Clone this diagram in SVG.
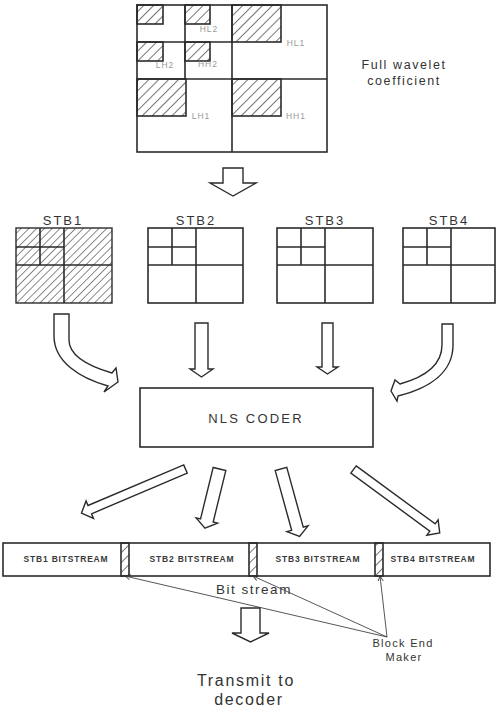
<svg xmlns="http://www.w3.org/2000/svg" width="497" height="711" viewBox="0 0 497 711">
  <defs>
    <pattern id="hatch" width="7" height="7" patternUnits="userSpaceOnUse" patternTransform="rotate(45)">
      <line x1="0" y1="0" x2="0" y2="7" stroke="#2b2b2b" stroke-width="1.3"/>
    </pattern>
    <pattern id="hatch-fine" width="5.5" height="5.5" patternUnits="userSpaceOnUse" patternTransform="rotate(45)">
      <line x1="0" y1="0" x2="0" y2="5.5" stroke="#2b2b2b" stroke-width="1.1"/>
    </pattern>
    <marker id="tip" viewBox="0 0 8 8" refX="7" refY="4" markerWidth="6" markerHeight="6" orient="auto" markerUnits="userSpaceOnUse">
      <path d="M0,0.5 L7,4 L0,7.5" fill="none" stroke="#333" stroke-width="1.2"/>
    </marker>
  </defs>
  <style>
    .ln { fill: none; stroke: #2b2b2b; stroke-width: 1.6; }
    .box { fill: #fff; stroke: #2b2b2b; stroke-width: 1.6; }
    .hz { fill: url(#hatch); stroke: #2b2b2b; stroke-width: 1.6; }
    .hzf { fill: url(#hatch-fine); stroke: #2b2b2b; stroke-width: 1.4; }
    .arrow { fill: #fff; stroke: #2b2b2b; stroke-width: 1.4; stroke-linejoin: miter; }
    .thin { fill: none; stroke: #444; stroke-width: 0.9; }
    text { font-family: "Liberation Sans", Arial, sans-serif; fill: #333; }
    .sub { font-size: 8.5px; fill: #999; letter-spacing: 1px; text-anchor: middle; }
    .stb { font-size: 13px; letter-spacing: 2px; text-anchor: middle; }
    .bs { font-size: 8.5px; font-weight: bold; letter-spacing: 0.8px; text-anchor: middle; fill: #3a3a3a; }
    .cap { font-size: 12.5px; letter-spacing: 1.6px; text-anchor: middle; }
  </style>
  <rect width="497" height="711" fill="#fff"/>

  <!-- full wavelet decomposition -->
  <g id="wavelet">
    <rect class="box" x="137" y="5" width="190" height="147"/>
    <rect class="hz" x="137" y="5" width="26" height="19"/>
    <rect class="hz" x="185" y="5" width="25" height="19"/>
    <rect class="hz" x="137" y="42" width="26" height="19"/>
    <rect class="hz" x="185" y="42" width="25" height="19"/>
    <rect class="hz" x="232" y="5" width="49" height="37"/>
    <rect class="hz" x="137" y="79" width="49" height="37"/>
    <rect class="hz" x="232" y="79" width="49" height="37"/>
    <path class="ln" d="M232,5 V152 M137,79 H327 M185,5 V79 M137,42 H232"/>
    <text class="sub" x="209" y="32">HL2</text>
    <text class="sub" x="296" y="46">HL1</text>
    <text class="sub" x="165" y="68">LH2</text>
    <text class="sub" x="208" y="67">HH2</text>
    <text class="sub" x="201" y="119">LH1</text>
    <text class="sub" x="296" y="119">HH1</text>
  </g>
  <g id="caption-full">
    <text class="cap" x="404" y="69">Full wavelet</text>
    <text class="cap" x="404" y="85">coefficient</text>
  </g>

  <!-- spatial tree blocks -->
  <g id="stb1">
    <text class="stb" x="63" y="225">STB1</text>
    <rect class="hzf" x="16" y="228" width="96" height="75"/>
    <path class="ln" d="M64,228 V303 M16,265 H112 M40,228 V265 M16,247 H64"/>
  </g>
  <g id="stb2">
    <text class="stb" x="196" y="225">STB2</text>
    <rect class="box" x="148" y="228" width="95" height="75"/>
    <path class="ln" d="M196,228 V303 M148,265 H243 M172,228 V265 M148,247 H196"/>
  </g>
  <g id="stb3">
    <text class="stb" x="325" y="225">STB3</text>
    <rect class="box" x="277" y="228" width="96" height="75"/>
    <path class="ln" d="M325,228 V303 M277,265 H373 M301,228 V265 M277,247 H325"/>
  </g>
  <g id="stb4">
    <text class="stb" x="449" y="225">STB4</text>
    <rect class="box" x="403" y="228" width="92" height="75"/>
    <path class="ln" d="M451,228 V303 M403,265 H495 M427,228 V265 M403,247 H451"/>
  </g>

  <g id="nls-coder">
    <rect class="box" x="140" y="388" width="233" height="59"/>
    <text x="256" y="423" font-size="13" letter-spacing="2.2" text-anchor="middle">NLS CODER</text>
  </g>

  <g id="bitstream">
    <rect class="box" x="3" y="543" width="487" height="33"/>
    <rect class="hz" x="121" y="543" width="8" height="33"/>
    <rect class="hz" x="249" y="543" width="8" height="33"/>
    <rect class="hz" x="375" y="543" width="8" height="33"/>
    <text class="bs" x="66" y="562">STB1 BITSTREAM</text>
    <text class="bs" x="192" y="562">STB2 BITSTREAM</text>
    <text class="bs" x="318" y="562">STB3 BITSTREAM</text>
    <text class="bs" x="433" y="562">STB4 BITSTREAM</text>
  </g>
  <g id="bitstream-label">
    <text x="254" y="594" font-size="13.5" letter-spacing="1.5" text-anchor="middle">Bit stream</text>
  </g>

  <g id="block-end-maker">
    <text x="403" y="647" font-size="11" letter-spacing="1.3" text-anchor="middle" fill="#888">Block End</text>
    <text x="404" y="661" font-size="11" letter-spacing="1.3" text-anchor="middle" fill="#888">Maker</text>
  </g>

  <g id="transmit">
    <text x="246" y="686" font-size="16" letter-spacing="1.7" text-anchor="middle">Transmit to</text>
    <text x="249" y="705" font-size="16" letter-spacing="1.7" text-anchor="middle">decoder</text>
  </g>

  <!-- connectors -->
  <g id="connectors">
    <!-- decomposition split -->
    <path class="arrow" d="M223,168 H243 V183 H256 L233,196 L210,183 H223 Z"/>
    <!-- blocks into coder -->
    <path class="arrow" d="M54,314 H69 V340 C69,356 88,366 112,373 L116,368 L118,382 L104,392 L108,386 C80,378 54,362 54,336 Z"/>
    <path class="arrow" d="M195,323 H208 V369 H213 L201.5,377 L190,369 H195 Z"/>
    <path class="arrow" d="M322,323 H333 V367 H338 L327.5,374 L317,367 H322 Z"/>
    <path class="arrow" d="M442,324 H453 V345 C453,372 430,388 398,396 L397,401 L391,391 L395,380 L400,384 C425,377 442,365 442,345 Z"/>
    <!-- coder out to stream segments -->
    <path class="arrow" transform="translate(185.5,469) rotate(157)" d="M0,-4.5 H104 V-9.5 L113,0 L104,9.5 V4.5 H0 Z"/>
    <path class="arrow" transform="translate(219.5,469) rotate(103.8)" d="M0,-6.5 H53 V-11 L61,0 L53,11 V6.5 H0 Z"/>
    <path class="arrow" transform="translate(281,469) rotate(74.6)" d="M0,-6 H62 V-11 L70,0 L62,11 V6 H0 Z"/>
    <path class="arrow" transform="translate(353.5,469.5) rotate(36.3)" d="M0,-4.5 H98 V-9.5 L107,0 L98,9.5 V4.5 H0 Z"/>
    <!-- block end pointers -->
    <line class="thin" x1="387" y1="637" x2="125" y2="576" marker-end="url(#tip)"/>
    <line class="thin" x1="387" y1="637" x2="253" y2="576" marker-end="url(#tip)"/>
    <line class="thin" x1="387" y1="637" x2="380" y2="576" marker-end="url(#tip)"/>
    <!-- output -->
    <path class="arrow" d="M241,608 H260 V633 H269 L250.5,642 L232,633 H241 Z"/>
  </g>
</svg>
